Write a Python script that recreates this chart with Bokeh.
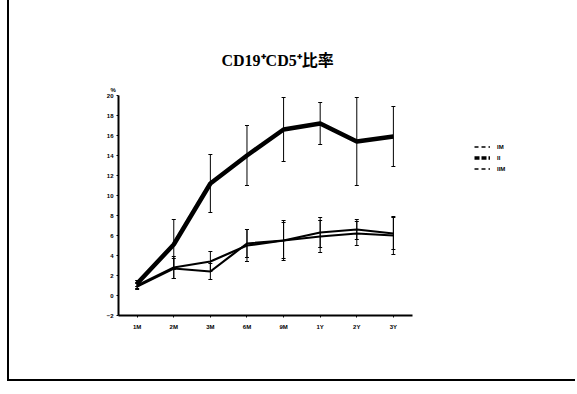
from bokeh.plotting import figure
from bokeh.models import ColumnDataSource, Whisker, Title, Legend, LegendItem, FixedTicker
from bokeh.embed import file_html
from bokeh.resources import INLINE

# time points after transplant
periods = ["1M", "2M", "3M", "6M", "9M", "1Y", "2Y", "3Y"]
series_names = ["IM", "II", "IIM"]

# CD19+CD5+ ratio (%), mean and SD per group
mean_a = [1.0, 2.8, 3.4, 5.0, 5.5, 5.9, 6.2, 6.0]
sd_a = [0.3, 1.1, 1.0, 1.6, 2.0, 1.6, 1.2, 1.9]
mean_b = [1.2, 5.1, 11.2, 14.0, 16.6, 17.2, 15.4, 15.9]
sd_b = [0.3, 2.5, 2.9, 3.0, 3.2, 2.1, 4.4, 3.0]
mean_c = [0.9, 2.7, 2.4, 5.2, 5.5, 6.3, 6.6, 6.2]
sd_c = [0.3, 1.0, 0.8, 1.4, 1.8, 1.5, 1.0, 1.6]

y_ticks = list(range(-2, 21, 2))

xs = list(range(1, len(periods) + 1))

# the frame runs on to the right edge so the legend can sit beside the axes;
# the x axis itself is bounded to the data span
p = figure(width=568, height=381, x_range=(0.49, 13.03), y_range=(-2, 20),
           output_backend="svg", toolbar_location=None,
           min_border_left=109, min_border_right=0,
           min_border_top=95, min_border_bottom=66)
p.styles = {"border-left": "2px solid black", "border-bottom": "2px solid black",
            "margin-left": "7px"}
p.grid.visible = False
p.outline_line_color = None
p.background_fill_color = "white"
p.border_fill_color = "white"

font = "Liberation Sans"
p.xaxis.ticker = FixedTicker(ticks=xs)
p.xaxis.major_label_overrides = {i: lab for i, lab in zip(xs, periods)}
p.xaxis.bounds = (0.49, 8.52)
p.yaxis.ticker = FixedTicker(ticks=y_ticks)
for ax in (p.xaxis, p.yaxis):
    ax.axis_line_color = "black"
    ax.axis_line_width = 2
    ax.major_tick_line_color = "black"
    ax.major_tick_out = 2
    ax.major_tick_in = 0
    ax.minor_tick_line_color = None
    ax.major_label_text_font = font
    ax.major_label_text_font_style = "bold"
    ax.major_label_text_font_size = "6px"
    ax.major_label_text_color = "black"
p.xaxis.major_label_standoff = 6
p.yaxis.major_label_standoff = 3


def draw(mean, sd, width):
    src = ColumnDataSource(dict(x=xs, y=mean,
                                lo=[m - s for m, s in zip(mean, sd)],
                                hi=[m + s for m, s in zip(mean, sd)]))
    w = Whisker(source=src, base="x", lower="lo", upper="hi",
                line_color="black", line_width=1)
    w.upper_head.size = 4
    w.lower_head.size = 4
    w.upper_head.line_color = "black"
    w.lower_head.line_color = "black"
    p.add_layout(w)
    p.line("x", "y", source=src, line_color="black", line_width=width)


draw(mean_a, sd_a, 2.2)
draw(mean_c, sd_c, 2.2)
draw(mean_b, sd_b, 4.5)

# legend keys: off-screen line renderers carrying the key styles
nan = float("nan")
key_a = p.line(x=[nan, nan], y=[nan, nan], line_color="black", line_width=1.5, line_dash="4 3")
key_b = p.line(x=[nan, nan], y=[nan, nan], line_color="black", line_width=3.5, line_dash="5 2")
key_c = p.line(x=[nan, nan], y=[nan, nan], line_color="black", line_width=1.5, line_dash="4 3")
legend = Legend(items=[LegendItem(label=series_names[0], renderers=[key_a]),
                       LegendItem(label=series_names[1], renderers=[key_b]),
                       LegendItem(label=series_names[2], renderers=[key_c])],
                location=(356, 142), padding=0, margin=0, spacing=2,
                glyph_width=16, glyph_height=9, label_height=9, label_standoff=7,
                label_text_font=font, label_text_font_style="bold",
                label_text_font_size="6px", label_text_color="black",
                border_line_color=None, background_fill_alpha=0)
p.add_layout(legend, "center")

p.title = Title(text="CD19⁺CD5⁺比率", align="left", offset=103, standoff=25,
                text_font="Liberation Serif, Noto Sans CJK JP", text_font_style="bold",
                text_font_size="16px", text_color="black")
p.add_layout(Title(text="%", align="left", offset=-8, standoff=6,
                   text_font=font, text_font_style="bold",
                   text_font_size="6px", text_color="black"), "above")

open("out.html", "w").write(file_html(p, INLINE))
